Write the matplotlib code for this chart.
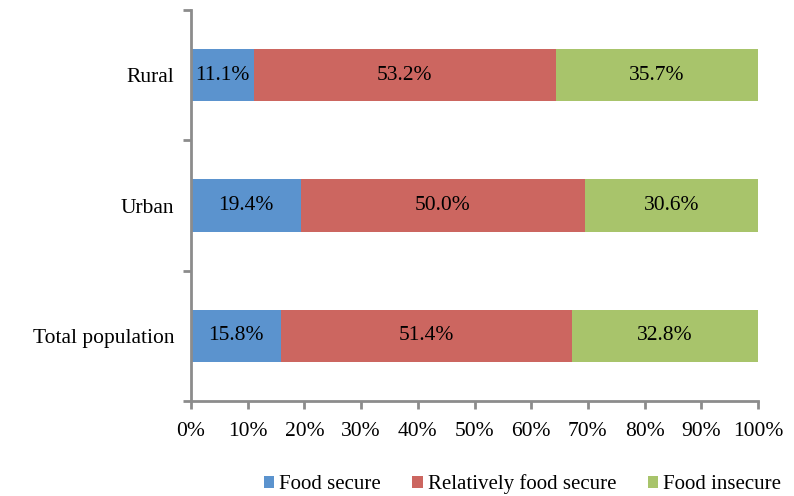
import matplotlib.pyplot as plt
import numpy as np

plt.rcParams['font.family'] = ['Liberation Serif', 'DejaVu Serif']

# Dados
categorias = ['Total population', 'Urban', 'Rural']
food_secure = [15.8, 19.4, 11.1]
relativamente = [51.4, 50.0, 53.2]
insecure = [32.8, 30.6, 35.7]
series = [food_secure, relativamente, insecure]
nomes = ['Food secure', 'Relatively food secure', 'Food insecure']
cores = ['#5B93CE', '#CC6660', '#A8C46B']

fs = 15.5

fig = plt.figure(figsize=(7.94, 4.96), dpi=100)
ax = fig.add_axes([0.2406, 0.1915, 0.9547 - 0.2406, 0.9798 - 0.1915])

y = np.arange(len(categorias))
esquerda = np.zeros(len(categorias))
for vals, nome, cor in zip(series, nomes, cores):
    barras = ax.barh(y, vals, left=esquerda, height=0.4, color=cor, label=nome)
    for b, v in zip(barras, vals):
        ax.text(b.get_x() + b.get_width() / 2, b.get_y() + b.get_height() / 2,
                f'{v:.1f}%', ha='center', va='center', fontsize=fs)
    esquerda += np.array(vals)

ax.set_xlim(0, 100)
ax.set_ylim(-0.5, 2.5)
ax.set_xticks(np.arange(0, 101, 10))
ax.set_xticklabels([f'{t}%' for t in range(0, 101, 10)], fontsize=fs)
ax.set_yticks(y)
ax.set_yticklabels(categorias, fontsize=fs)
ax.tick_params(axis='y', length=0, pad=12)
ax.set_yticks([-0.5, 0.5, 1.5, 2.5], minor=True)
ax.tick_params(axis='y', which='minor', length=6, color='#8C8C8C', width=2)
ax.tick_params(axis='x', length=6, color='#8C8C8C', width=2, pad=9)

for s in ['top', 'right']:
    ax.spines[s].set_visible(False)
for s in ['left', 'bottom']:
    ax.spines[s].set_color('#8C8C8C')
    ax.spines[s].set_linewidth(2)

# Legenda na parte de baixo
fig.legend(loc='center', bbox_to_anchor=(0.658, 0.024), ncol=3, frameon=False,
           fontsize=15, handlelength=0.5, handleheight=0.5, handletextpad=0.25,
           columnspacing=1.5, borderpad=0)

fig.savefig('out.png', dpi=100)
